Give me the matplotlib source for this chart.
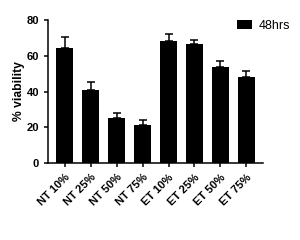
import numpy as np
import matplotlib.pyplot as plt

plt.rcParams["font.family"] = ["Liberation Sans", "DejaVu Sans"]
plt.rcParams["font.weight"] = "bold"

groups = ["NT 10%", "NT 25%", "NT 50%", "NT 75%", "ET 10%", "ET 25%", "ET 50%", "ET 75%"]
viability = [64.6, 40.6, 25.1, 21.4, 68.0, 66.3, 53.8, 48.4]
sem = [6.1, 4.7, 2.8, 2.6, 4.4, 2.4, 3.4, 3.3]

fig = plt.figure(figsize=(3, 2.4), dpi=100)
ax = fig.add_axes([0.16, 0.32, 0.717, 0.597])

x = np.arange(len(groups))
ax.bar(x, viability, width=0.65, color="black", label="48hrs",
       yerr=[np.zeros(len(sem)), sem], capsize=3,
       error_kw=dict(elinewidth=1.1, capthick=1.1, ecolor="black"))

ax.set_xlim(-0.65, len(groups) - 0.35)
ax.set_ylim(0, 80)
ax.set_yticks([0, 20, 40, 60, 80])
ax.set_xticks(x)
ax.set_xticklabels(groups, rotation=45, ha="right", rotation_mode="anchor")
ax.set_ylabel("% viability", fontsize=8.7, fontweight="bold", labelpad=1)
ax.tick_params(labelsize=8, width=1.1, length=3)
for s in ["top", "right"]:
    ax.spines[s].set_visible(False)
for s in ["left", "bottom"]:
    ax.spines[s].set_linewidth(1.1)

fig.legend(loc="upper right", bbox_to_anchor=(1.005, 0.965), frameon=False,
           handlelength=1.2, handleheight=0.8, handletextpad=0.5,
           prop={"weight": "normal", "size": 9})

fig.savefig("out.png", dpi=100)
